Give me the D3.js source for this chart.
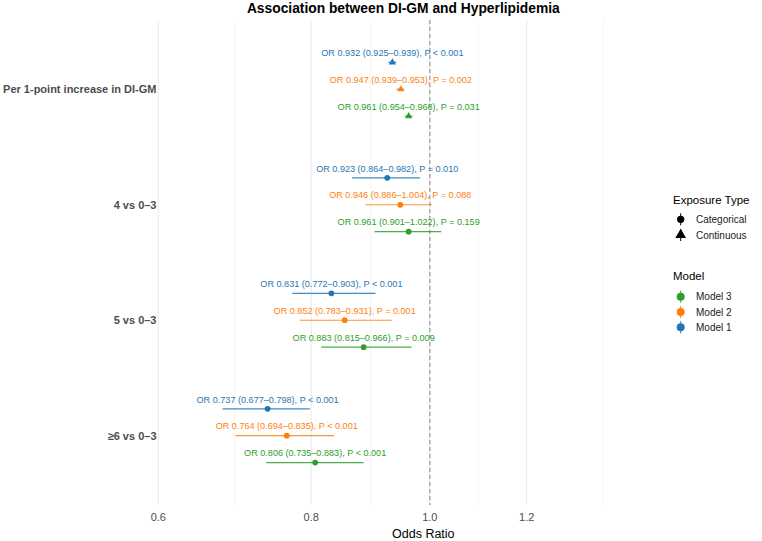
<!DOCTYPE html>
<html>
<head>
<meta charset="utf-8">
<script src="https://cdn.jsdelivr.net/npm/d3@7"></script>
<style>
  body { margin: 0; background: #fff; }
  text { font-family: "Liberation Sans", Arial, sans-serif; }
</style>
</head>
<body>
<svg id="chart" width="762" height="541"></svg>
<script>
// data
let categories = ["Per 1-point increase in DI-GM", "4 vs 0\u20133", "5 vs 0\u20133", "\u22656 vs 0\u20133"];
let exposureTypes = ["Continuous", "Categorical", "Categorical", "Categorical"];
let models = ["Model 1", "Model 2", "Model 3"];
let modelColors = ["#1f77b4", "#ff7f0e", "#2ca02c"];

let orModel1 = [0.932, 0.923, 0.831, 0.737];
let loModel1 = [0.925, 0.864, 0.772, 0.677];
let hiModel1 = [0.939, 0.982, 0.903, 0.798];
let pModel1 = [0.0005, 0.010, 0.0005, 0.0005];

let orModel2 = [0.947, 0.946, 0.852, 0.764];
let loModel2 = [0.939, 0.886, 0.783, 0.694];
let hiModel2 = [0.953, 1.004, 0.931, 0.835];
let pModel2 = [0.002, 0.088, 0.001, 0.0005];

let orModel3 = [0.961, 0.961, 0.883, 0.806];
let loModel3 = [0.954, 0.901, 0.815, 0.735];
let hiModel3 = [0.968, 1.022, 0.966, 0.883];
let pModel3 = [0.031, 0.159, 0.009, 0.0005];

let xTicks = [0.6, 0.8, 1.0, 1.2];
let xMinor = [0.6928, 0.8944, 1.0954, 1.386];

let svg = d3.select('#chart');
let panel = {l: 158.3, r: 645.3, t: 20, b: 505};

let x = d3.scaleLog().domain([0.6, 1.5]).range([panel.l, panel.r]);
let y = d3.scalePoint().domain(categories).range([panel.t, panel.b]).padding(0.6);
let dodge = d3.scalePoint().domain(models).range([-0.233 * y.step(), 0.233 * y.step()]);
let color = d3.scaleOrdinal().domain(models).range(modelColors);

let orAll = [orModel1, orModel2, orModel3];
let loAll = [loModel1, loModel2, loModel3];
let hiAll = [hiModel1, hiModel2, hiModel3];
let pAll = [pModel1, pModel2, pModel3];

let rows = [];
models.forEach(function(m, i) {
    categories.forEach(function(c, j) {
        rows.push({model: m, cat: c, type: exposureTypes[j], or: orAll[i][j], lo: loAll[i][j], hi: hiAll[i][j], p: pAll[i][j]});
    });
});

function fmtP(p) {
    return p < 0.001 ? "P < 0.001" : "P = " + p.toFixed(3);
}

// grid
svg.append('g').selectAll('line').data(xMinor).enter().append('line')
    .attr('x1', d => x(d)).attr('x2', d => x(d))
    .attr('y1', panel.t).attr('y2', panel.b)
    .attr('stroke', '#f0f0f0').attr('stroke-width', 0.7);

svg.append('g').selectAll('line').data(xTicks).enter().append('line')
    .attr('x1', d => x(d)).attr('x2', d => x(d))
    .attr('y1', panel.t).attr('y2', panel.b)
    .attr('stroke', '#ebebeb').attr('stroke-width', 1.1);

// reference line at 1
svg.append('line')
    .attr('x1', x(1)).attr('x2', x(1))
    .attr('y1', panel.t).attr('y2', panel.b)
    .attr('stroke', '#a6a6a6').attr('stroke-width', 1.4)
    .attr('stroke-dasharray', '4,3');

function yPos(d) { return y(d.cat) + dodge(d.model); }

// error bars
svg.append('g').selectAll('line').data(rows).enter().append('line')
    .attr('x1', d => x(d.lo)).attr('x2', d => x(d.hi))
    .attr('y1', yPos).attr('y2', yPos)
    .attr('stroke', d => color(d.model))
    .attr('stroke-opacity', 0.85)
    .attr('stroke-width', 1.2);

// points
let triangle = d3.symbol().type(d3.symbolTriangle).size(22);
svg.append('g').selectAll('path').data(rows).enter().append('path')
    .attr('d', d => d.type == "Continuous" ? triangle() : d3.symbol().type(d3.symbolCircle).size(26)())
    .attr('transform', d => "translate(" + x(d.or) + "," + yPos(d) + ")")
    .attr('fill', d => color(d.model));

// labels
svg.append('g').selectAll('text').data(rows).enter().append('text')
    .attr('x', d => x(d.or))
    .attr('y', d => yPos(d) - 6.3)
    .attr('text-anchor', 'middle')
    .attr('font-size', '9.1px')
    .attr('fill', d => color(d.model))
    .text(d => "OR " + d.or.toFixed(3) + " (" + d.lo.toFixed(3) + "\u2013" + d.hi.toFixed(3) + "), " + fmtP(d.p));

// y axis labels
svg.append('g').selectAll('text').data(categories).enter().append('text')
    .attr('x', 156.5)
    .attr('y', d => y(d))
    .attr('dy', '0.35em')
    .attr('text-anchor', 'end')
    .attr('font-size', '11px')
    .attr('font-weight', 'bold')
    .attr('fill', '#4d4d4d')
    .text(d => d);

// x axis labels
svg.append('g').selectAll('text').data(xTicks).enter().append('text')
    .attr('x', d => x(d))
    .attr('y', 517)
    .attr('dy', '0.35em')
    .attr('text-anchor', 'middle')
    .attr('font-size', '11px')
    .attr('fill', '#4d4d4d')
    .text(d => d.toFixed(1));

svg.append('text')
    .attr('x', 423.3)
    .attr('y', 534)
    .attr('dy', '0.35em')
    .attr('text-anchor', 'middle')
    .attr('font-size', '12.5px')
    .attr('fill', '#000')
    .text("Odds Ratio");

svg.append('text')
    .attr('x', 403.3)
    .attr('y', 13)
    .attr('text-anchor', 'middle')
    .attr('font-size', '13.8px')
    .attr('font-weight', 'bold')
    .attr('fill', '#000')
    .text("Association between DI-GM and Hyperlipidemia");

// legend: exposure type
let legendX = 673;
let shapeTypes = ["Categorical", "Continuous"];
svg.append('text')
    .attr('x', legendX).attr('y', 200).attr('dy', '0.35em')
    .attr('font-size', '11.5px').attr('fill', '#000')
    .text("Exposure Type");

let shapeKeys = svg.append('g').selectAll('g').data(shapeTypes).enter().append('g')
    .attr('transform', (d, i) => "translate(" + 680.7 + "," + (219.3 + i * 15.7) + ")");
shapeKeys.append('line')
    .attr('y1', -6).attr('y2', 6)
    .attr('stroke', '#000').attr('stroke-width', 1);
shapeKeys.append('path')
    .attr('d', d => d == "Continuous" ? d3.symbol().type(d3.symbolTriangle).size(50)() : d3.symbol().type(d3.symbolCircle).size(42)())
    .attr('fill', '#000');
shapeKeys.append('text')
    .attr('x', 15.3).attr('dy', '0.35em')
    .attr('font-size', '10px').attr('fill', '#1a1a1a')
    .text(d => d);

// legend: model
svg.append('text')
    .attr('x', legendX).attr('y', 275.7).attr('dy', '0.35em')
    .attr('font-size', '11.5px').attr('fill', '#000')
    .text("Model");

let modelKeys = svg.append('g').selectAll('g').data(models.slice().reverse()).enter().append('g')
    .attr('transform', (d, i) => "translate(" + 680.7 + "," + (296.7 + i * 15.3) + ")");
modelKeys.append('line')
    .attr('y1', -6).attr('y2', 6)
    .attr('stroke', d => color(d)).attr('stroke-width', 1);
modelKeys.append('path')
    .attr('d', d3.symbol().type(d3.symbolCircle).size(50)())
    .attr('fill', d => color(d));
modelKeys.append('text')
    .attr('x', 15.3).attr('dy', '0.35em')
    .attr('font-size', '10px').attr('fill', '#1a1a1a')
    .text(d => d);
</script>
</body>
</html>
